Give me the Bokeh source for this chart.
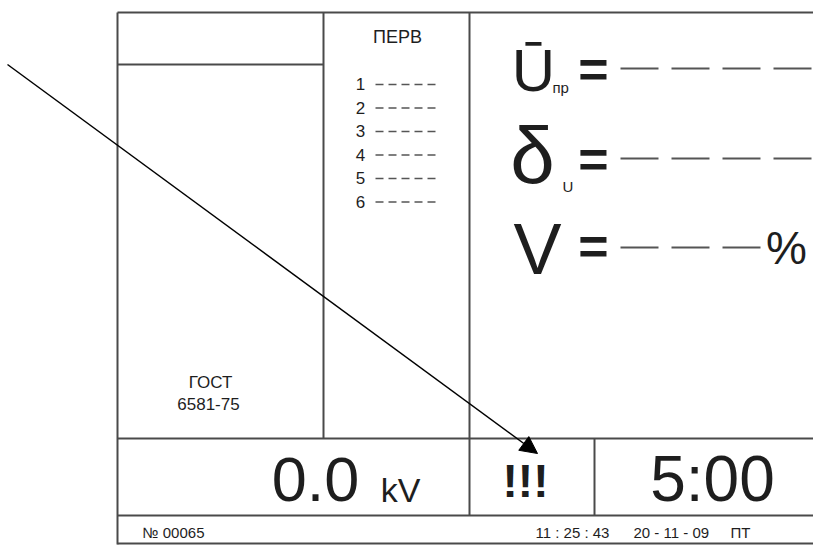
from bokeh.plotting import figure
from bokeh.models import Range1d, Arrow, NormalHead
from bokeh.core.properties import value
from bokeh.embed import file_html
from bokeh.resources import INLINE

# ---- content (texts) ----
header = "ПЕРВ"
list_numbers = ["1", "2", "3", "4", "5", "6"]
gost_lines = ["ГОСТ", "6581-75"]
param_symbols = ["Ū", "δ", "V"]
param_subscripts = ["пр", "U", ""]
param_units = ["", "", "%"]
voltage_value = "0.0"
voltage_unit = "kV"
alarm_text = "!!!"
timer_text = "5:00"
serial_text = "№ 00065"
clock_text = "11 : 25 : 43"
date_text = "20 - 11 - 09"
weekday_text = "ПТ"

# ---- layout / style ----
FONT = "Liberation Sans"
INK = "#1e1e1e"
FRAME = "#4a4a4a"
BASE_SHIFT = 0.37  # em offset so that glyph baselines land where read

p = figure(width=813, height=545, x_range=Range1d(0, 813), y_range=Range1d(545, 0),
           output_backend="svg", toolbar_location=None,
           x_axis_location=None, y_axis_location=None, min_border=0,
           outline_line_color=None, background_fill_color="white",
           border_fill_color="white")
p.grid.visible = False


def txt(x, y, s, size, align="center", bold=False, color=INK, font=FONT):
    p.text(x=[x], y=[y - BASE_SHIFT * size], text=[s], text_font=value(font),
           text_font_size=f"{size}px", text_align=align,
           text_baseline="alphabetic", text_color=color,
           text_font_style="bold" if bold else "normal")


# frame lines
fx0 = [117, 117, 117, 323, 469, 117, 594, 117, 117]
fy0 = [12, 12, 64, 12, 12, 438, 438, 515, 543]
fx1 = [813, 117, 323, 323, 469, 813, 594, 813, 813]
fy1 = [12, 544, 64, 438, 515, 438, 515, 515, 543]
p.segment(x0=fx0, y0=fy0, x1=fx1, y1=fy1, line_color=FRAME, line_width=2)

# header and numbered list
txt(397, 43, header, 18)
list_base = [90, 113.5, 137, 160.5, 184, 207.5]
for n, yb in zip(list_numbers, list_base):
    txt(360, yb, n, 17)
p.segment(x0=[375] * 6, y0=[b - 6 for b in list_base], x1=[435] * 6,
          y1=[b - 6 for b in list_base], line_color="#555555", line_width=1.6,
          line_dash="8 5")

# GOST
txt(210, 388, gost_lines[0], 17)
txt(208, 410, gost_lines[1], 17)

# parameters
sym_x = [533, 532, 537]
sym_base = [92, 185, 275]
sym_size = [60, 80, 72]
for s, x, yb, fs in zip(param_symbols, sym_x, sym_base, sym_size):
    txt(x, yb, s, fs)
txt(552, 93, param_subscripts[0], 15, align="left")
txt(562, 192, param_subscripts[1], 15, align="left")
eq_base = [88, 178, 265]
for yb in eq_base:
    txt(593, yb, "=", 52, bold=True)
dash_y = [68, 158, 247]
dash_end = [813, 813, 763]
p.segment(x0=[620] * 3, y0=dash_y, x1=dash_end, y1=dash_y,
          line_color="#555555", line_width=2, line_dash="38 13")
txt(786, 265, param_units[2], 46)

# bottom row
txt(315, 502, voltage_value, 63)
txt(400, 502, voltage_unit, 34)
txt(525, 498, alarm_text, 46, bold=True)
txt(712, 502, timer_text, 64)

# status line
txt(142, 538, serial_text, 15, align="left")
txt(535, 538, clock_text, 15, align="left")
txt(633, 538, date_text, 15, align="left")
txt(730, 538, weekday_text, 15, align="left")

# arrow
p.add_layout(Arrow(end=NormalHead(size=17, fill_color="black", line_color="black"),
                   x_start=7, y_start=64, x_end=537, y_end=453,
                   line_width=1.5, line_color="black"))

open("out.html", "w").write(file_html(p, INLINE))
